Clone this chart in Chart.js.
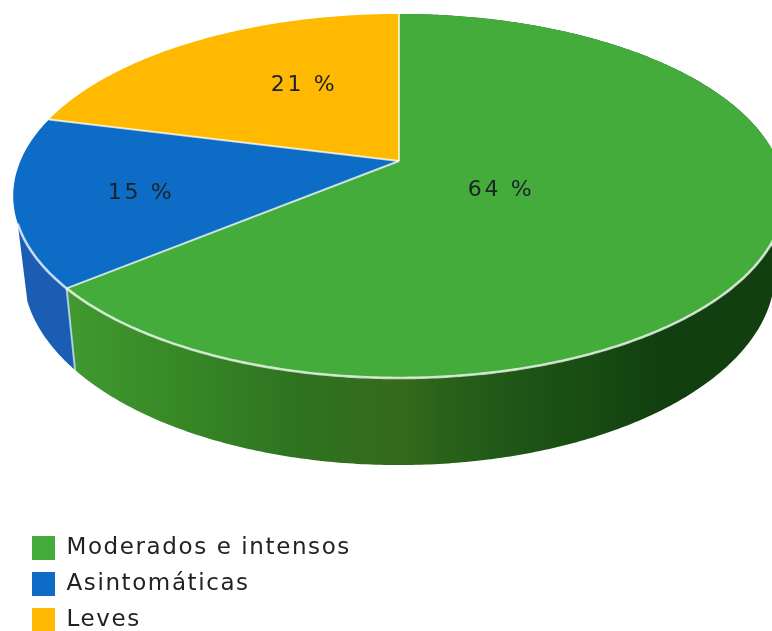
<!DOCTYPE html>
<html lang="es">
	<head>
		<meta charset="utf-8" />
		<style>
			html, body { margin: 0; padding: 0; background: #fff; overflow: hidden; }
			canvas { display: block; }
		</style>
		<script src="https://cdn.jsdelivr.net/npm/chart.js@4"></script>
	</head>

	<body>
		<canvas id="myChart" width="772" height="631"></canvas>
	</body>
	<script>
		const categories = ["Moderados e intensos", "Asintomáticas", "Leves"];
		const shares = [64, 15, 21];
		const faceColors = ["#43ac3b", "#0d6cc6", "#ffb900"];

		// perspective of the disc: same tilt for both rims, the lower one is the base of the wall
		const tilt = 0.192;
		const topRim = { x: 399, y: 161, sx: 378.6, sy: 175.3 };
		const lowRim = { x: 399, y: 235, sx: 369, sy: 185.9 };
		const rimFront = [0, 2.8];
		const labelSpots = [[501, 190], [141, 193], [304, 85]];
		const legendSpacing = "1.6px";

		function project(rim, a) {
			const X = Math.cos(a);
			const Y = Math.sin(a);
			const d = 1 - tilt * Y;
			return [rim.x + rim.sx * X / d, rim.y + rim.sy * Y / d];
		}

		function tracePath(ctx, rim, a0, a1, first) {
			const n = Math.max(2, Math.ceil(Math.abs(a1 - a0) / 0.01));
			for (let i = 0; i <= n; i++) {
				const p = project(rim, a0 + (a1 - a0) * i / n);
				if (i === 0 && first) ctx.moveTo(p[0], p[1]);
				else ctx.lineTo(p[0], p[1]);
			}
		}

		function wallFill(ctx, index) {
			if (index === 1) return "#1a5db2";
			const g = ctx.createLinearGradient(70, 0, 772, 0);
			g.addColorStop(0, "#41992f");
			g.addColorStop(0.18, "#368526");
			g.addColorStop(0.33, "#2e7220");
			g.addColorStop(0.48, "#35691c");
			g.addColorStop(0.53, "#28631a");
			g.addColorStop(0.64, "#1f5517");
			g.addColorStop(0.76, "#164a12");
			g.addColorStop(0.84, "#123f10");
			g.addColorStop(1, "#123f10");
			return g;
		}

		const disc3d = {
			id: "disc3d",
			beforeUpdate(chart) {
				chart.ctx.letterSpacing = legendSpacing;
			},
			beforeDraw(chart) {
				chart.ctx.letterSpacing = legendSpacing;
			},
			beforeDatasetDraw(chart) {
				const ctx = chart.ctx;
				const arcs = chart.getDatasetMeta(0).data;

				// walls first, only the front part of the rim has one
				[1, 0].forEach((i) => {
					const arc = arcs[i];
					const a1 = Math.min(arc.endAngle, rimFront[1]);
					ctx.beginPath();
					tracePath(ctx, topRim, arc.startAngle, a1, true);
					tracePath(ctx, lowRim, a1, arc.startAngle, false);
					ctx.closePath();
					ctx.fillStyle = wallFill(ctx, i);
					ctx.fill();
				});

				// seam between green and blue wall
				const seamA = arcs[0].endAngle;
				const s0 = project(topRim, seamA);
				const s1 = project(lowRim, seamA);
				ctx.beginPath();
				ctx.moveTo(s0[0], s0[1]);
				ctx.lineTo(s1[0], s1[1]);
				ctx.strokeStyle = "rgba(200,225,245,0.8)";
				ctx.lineWidth = 2;
				ctx.stroke();

				// top face
				arcs.forEach((arc, i) => {
					ctx.beginPath();
					ctx.moveTo(topRim.x, topRim.y);
					tracePath(ctx, topRim, arc.startAngle, arc.endAngle, false);
					ctx.closePath();
					ctx.fillStyle = faceColors[i];
					ctx.fill();
				});

				// spokes
				ctx.lineWidth = 2;
				ctx.strokeStyle = "rgba(255,255,255,0.72)";
				arcs.forEach((arc) => {
					const p = project(topRim, arc.startAngle);
					ctx.beginPath();
					ctx.moveTo(topRim.x, topRim.y);
					ctx.lineTo(p[0], p[1]);
					ctx.stroke();
				});

				// front rim highlight
				ctx.beginPath();
				tracePath(ctx, topRim, rimFront[0], rimFront[1], true);
				ctx.lineWidth = 2.6;
				ctx.strokeStyle = "rgba(255,255,255,0.74)";
				ctx.stroke();

				// value labels
				ctx.save();
				ctx.letterSpacing = "2.6px";
				ctx.font = "22px 'DejaVu Sans'";
				ctx.textAlign = "center";
				ctx.textBaseline = "middle";
				ctx.fillStyle = "#1a2428";
				shares.forEach((v, i) => {
					ctx.fillText(v + " %", labelSpots[i][0], labelSpots[i][1]);
				});
				ctx.restore();

				return false;
			}
		};

		var myChart = new Chart(document.getElementById("myChart").getContext("2d"), {
			type: "pie",
			data: {
				labels: categories,
				datasets: [
					{
						data: shares,
						backgroundColor: faceColors,
						borderWidth: 0
					}
				]
			},
			options: {
				responsive: false,
				animation: false,
				layout: { padding: { left: 20, bottom: -13 } },
				plugins: {
					tooltip: { enabled: false },
					legend: {
						position: "left",
						align: "end",
						labels: {
							boxWidth: 23,
							boxHeight: 24,
							padding: 12,
							color: "#222",
							font: { family: "'DejaVu Sans'", size: 23 }
						}
					}
				}
			},
			plugins: [disc3d]
		});
	</script>
</html>
